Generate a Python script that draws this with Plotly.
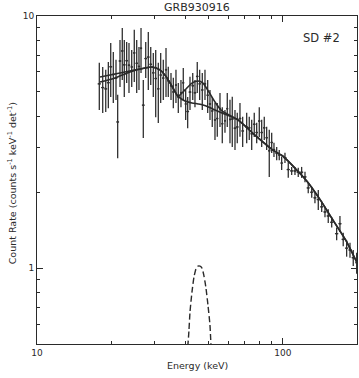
import math
import plotly.graph_objects as go

# ---------------- data ----------------
energy = [17.92, 18.50, 19.03, 19.50, 19.94, 20.43, 20.95, 21.28, 21.75, 22.22,
          22.64, 23.15, 23.66, 24.27, 24.86, 25.43, 25.98, 26.48, 27.05, 27.67,
          28.35, 29.00, 29.71, 30.38, 31.13, 31.83, 32.62, 33.46, 34.18, 35.06,
          35.83, 36.73, 37.54, 38.49, 39.33, 40.22, 40.98, 41.88, 42.97, 43.88,
          44.83, 45.85, 46.99, 48.19, 49.42, 50.50, 51.59, 52.92, 54.07, 55.46,
          56.67, 58.11, 59.38, 60.90, 62.22, 63.82, 65.20, 66.87, 68.58, 71.20,
          72.95, 74.62, 76.44, 78.19, 80.12, 81.94, 83.95, 85.85, 87.97, 89.98,
          91.93, 94.29, 96.60, 98.79, 101.9, 105.1, 108.5, 111.9, 115.4, 119.1,
          122.9, 126.7, 130.9, 134.9, 139.2, 143.7, 148.2, 152.8, 157.8, 165.3,
          170.5, 175.8, 181.5, 187.3, 193.1, 199.4]

energy_halfwidth = [0.28, 0.28, 0.28, 0.28, 0.28, 0.28, 0.28, 0.28, 0.28, 0.28,
                    0.28, 0.28, 0.28, 0.28, 0.28, 0.28, 0.28, 0.28, 0.36, 0.36,
                    0.36, 0.36, 0.36, 0.36, 0.36, 0.36, 0.36, 0.36, 0.36, 0.36,
                    0.36, 0.36, 0.36, 0.36, 0.36, 0.36, 0.55, 0.55, 0.55, 0.55,
                    0.55, 0.55, 0.55, 0.55, 0.55, 0.55, 0.55, 0.55, 0.55, 0.55,
                    0.55, 0.55, 0.55, 0.55, 0.85, 0.85, 0.85, 0.85, 0.9, 0.9,
                    0.9, 0.9, 0.95, 0.95, 0.95, 0.95, 1.0, 1.0, 1.0, 1.0,
                    1.05, 1.05, 1.1, 1.1, 1.6, 1.6, 1.7, 1.7, 1.8, 1.8,
                    1.9, 1.9, 2.0, 2.0, 2.1, 2.2, 2.3, 2.3, 2.4, 2.6,
                    2.6, 2.7, 2.8, 2.9, 2.9, 3.0]

counts = [5.38, 5.20, 5.14, 5.44, 6.29, 5.86, 5.67, 3.80, 6.63, 7.27,
          6.40, 6.65, 6.38, 6.28, 7.14, 6.49, 6.31, 7.45, 4.43, 6.78,
          6.87, 6.43, 5.95, 5.65, 5.14, 5.83, 5.67, 6.12, 5.53, 5.29,
          5.00, 5.32, 4.77, 4.96, 5.43, 4.48, 4.18, 4.99, 5.29, 4.96,
          5.76, 5.38, 5.09, 5.38, 4.85, 4.48, 4.20, 3.87, 3.92, 4.29,
          3.74, 3.84, 4.29, 3.89, 3.90, 3.59, 3.63, 3.92, 3.50, 3.63,
          3.60, 3.41, 3.72, 3.45, 3.83, 3.45, 3.60, 3.29, 2.92, 3.15,
          2.95, 2.85, 2.81, 2.61, 2.74, 2.46, 2.43, 2.43, 2.40, 2.40,
          2.30, 2.08, 2.00, 1.90, 1.87, 1.75, 1.67, 1.61, 1.52, 1.37,
          1.50, 1.30, 1.20, 1.18, 1.10, 1.05]

count_err = [1.14, 1.08, 0.98, 1.13, 1.52, 1.34, 1.03, 1.07, 1.40, 1.70,
             1.63, 1.23, 1.43, 1.05, 1.67, 1.54, 1.22, 1.51, 1.15, 1.10,
             1.78, 1.10, 1.18, 1.68, 1.38, 1.31, 1.03, 1.35, 0.76, 0.65,
             0.69, 0.80, 0.65, 0.61, 0.79, 0.61, 0.59, 0.75, 0.65, 0.61,
             0.81, 0.74, 0.85, 0.74, 0.73, 0.61, 0.57, 0.65, 0.60, 0.66,
             0.61, 0.40, 0.66, 0.76, 0.88, 0.65, 0.50, 0.60, 0.48, 0.50,
             0.38, 0.47, 0.41, 0.32, 0.52, 0.43, 0.38, 0.35, 0.62, 0.29,
             0.19, 0.17, 0.13, 0.16, 0.13, 0.18, 0.09, 0.09, 0.10, 0.12,
             0.11, 0.10, 0.10, 0.09, 0.17, 0.08, 0.08, 0.10, 0.07, 0.08,
             0.11, 0.08, 0.09, 0.08, 0.08, 0.10]

model_energy = [18.04, 20.76, 23.88, 27.48, 29.35, 31.62, 33.78, 35.71, 37.43, 39.96,
                42.66, 45.13, 47.29, 50.03, 52.92, 56.49, 65.62, 76.9, 91.0, 100.0,
                112.0, 125.2, 142.0, 159.7, 180.0, 200.0]
model_continuum = [5.47, 5.68, 6.00, 6.22, 6.28, 6.11, 5.68, 5.18, 4.81, 4.60,
                   4.52, 4.48, 4.44, 4.35, 4.24, 4.12, 3.87, 3.37, 2.94, 2.78,
                   2.49, 2.21, 1.86, 1.55, 1.29, 1.05]
model_with_line = [5.73, 5.89, 6.05, 6.22, 6.28, 6.11, 5.68, 5.18, 4.81, 5.09,
                   5.42, 5.52, 5.42, 4.99, 4.56, 4.20, 3.87, 3.37, 2.94, 2.78,
                   2.49, 2.21, 1.86, 1.55, 1.29, 1.05]

line_energy = [40.6, 41.09, 41.48, 41.88, 42.66, 43.47, 44.29, 45.13, 45.98, 46.85,
               47.74, 48.64, 49.56, 50.50, 50.97, 51.5]
line_counts = [0.45, 0.499, 0.567, 0.669, 0.803, 0.921, 0.991, 1.018, 1.018, 1.0,
               0.930, 0.833, 0.713, 0.594, 0.499, 0.45]

x_major = [10, 100]
x_minor = [20, 30, 40, 50, 60, 70, 80, 90, 200]
y_major = [1, 10]
y_minor = [0.6, 0.7, 0.8, 0.9, 2, 3, 4, 5, 6, 7, 8, 9]

title_text = "GRB930916"
panel_text = "SD #2"
x_title = "Energy (keV)"
y_title = "Count Rate (counts s<sup>-1</sup> keV<sup>-1</sup> det<sup>-1</sup>)"

# ---------------- figure ----------------
FONT = "DejaVu Sans, Verdana, sans-serif"
INK = "#2a2a2a"
BAR = "#303030"

fig = go.Figure()

fig.add_trace(go.Scatter(
    x=energy, y=counts, mode="markers",
    marker=dict(size=2, color=BAR),
    error_y=dict(type="data", array=count_err, width=0, thickness=1.3, color=BAR),
    error_x=dict(type="data", array=energy_halfwidth, width=0, thickness=1.2, color=BAR),
    showlegend=False, hoverinfo="skip"))

fig.add_trace(go.Scatter(
    x=model_energy, y=model_continuum, mode="lines",
    line=dict(color=INK, width=1.6, shape="spline", smoothing=0.6),
    showlegend=False))
fig.add_trace(go.Scatter(
    x=model_energy, y=model_with_line, mode="lines",
    line=dict(color=INK, width=1.6, shape="spline", smoothing=0.6),
    showlegend=False))
fig.add_trace(go.Scatter(
    x=line_energy, y=line_counts, mode="lines",
    line=dict(color=INK, width=1.4, dash="6px,3px", shape="spline", smoothing=0.6),
    showlegend=False))

axis_common = dict(
    type="log", showgrid=False, zeroline=False,
    showline=True, linecolor=INK, linewidth=1, mirror="ticks",
    ticks="inside", ticklen=6, tickwidth=1, tickcolor=INK,
    tickfont=dict(family=FONT, size=9, color=INK),
)

fig.update_xaxes(**axis_common, range=[1, math.log10(200)],
                 tickvals=x_major, ticktext=[str(v) for v in x_major],
                 minor=dict(tickvals=x_minor, ticks="inside", ticklen=3,
                            tickcolor=INK, tickwidth=1))
fig.update_yaxes(**axis_common, range=[math.log10(0.5), 1],
                 tickvals=y_major, ticktext=[str(v) for v in y_major],
                 minor=dict(tickvals=y_minor, ticks="inside", ticklen=3,
                            tickcolor=INK, tickwidth=1))

fig.update_layout(
    width=359, height=378,
    margin=dict(l=37, r=2, t=16, b=34, pad=0),
    paper_bgcolor="white", plot_bgcolor="white",
    font=dict(family=FONT, color=INK),
    annotations=[
        dict(text=title_text, xref="paper", yref="paper", x=0.5, y=1.027,
             xanchor="center", yanchor="middle", showarrow=False,
             font=dict(family=FONT, size=11, color=INK)),
        dict(text=panel_text, xref="paper", yref="paper", x=0.89, y=0.933,
             xanchor="center", yanchor="middle", showarrow=False,
             font=dict(family=FONT, size=11.5, color=INK)),
        dict(text=x_title, xref="paper", yref="paper", x=0.5, y=-0.067,
             xanchor="center", yanchor="middle", showarrow=False,
             font=dict(family=FONT, size=9.5, color=INK)),
        dict(text=y_title, xref="paper", yref="paper", x=-0.078, y=0.49,
             xanchor="center", yanchor="middle", showarrow=False, textangle=-90,
             font=dict(family=FONT, size=9.5, color=INK)),
    ],
)

fig.write_html("out.html", config={"displayModeBar": False},
               post_script="document.body.style.margin='0';document.body.style.padding='0';")
